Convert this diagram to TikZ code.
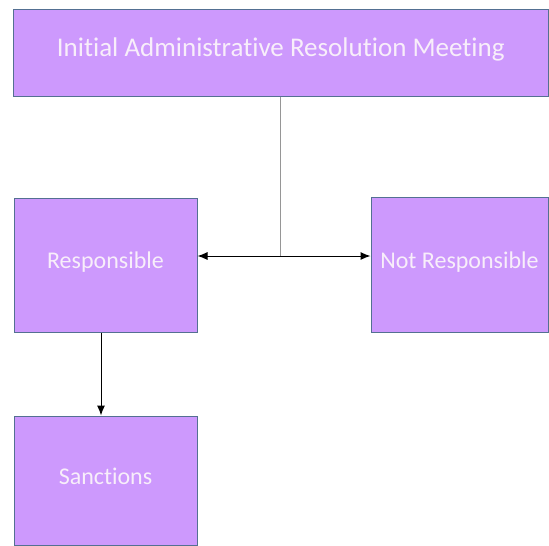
\documentclass[tikz,border=0pt]{standalone}
\usepackage{fontspec}
\setmainfont[Ligatures={NoCommon}]{Carlito}
\usetikzlibrary{arrows.meta}
\definecolor{boxfill}{RGB}{205,153,253}
\definecolor{boxline}{RGB}{84,112,146}
\definecolor{boxtext}{RGB}{248,238,250}
\definecolor{stem}{RGB}{150,150,150}
\tikzset{
  box/.style={draw=boxline, line width=1pt, fill=boxfill, text=boxtext, inner sep=0pt,
    text height=22pt, text depth=15pt, font=\fontsize{24}{28}\selectfont},
  bigbox/.style={box, font=\fontsize{27}{32}\selectfont},
  arr/.style={-{Latex[length=10pt,width=8pt]}, line width=1pt, black},
  stemline/.style={draw=stem, line width=0.8pt}
}
\begin{document}
\begin{tikzpicture}[x=1pt,y=-1pt]
\useasboundingbox (0,0) rectangle (549,546);
\node[bigbox, minimum width=534.5pt, minimum height=87pt] (top) at (280.75,52.5) {Initial Administrative Resolution Meeting};
\node[box, minimum width=183pt, minimum height=134pt] (resp) at (105.5,265) {Responsible};
\node[box, minimum width=177pt, minimum height=135pt] (notresp) at (459.5,264.5) {Not Responsible};
\node[box, minimum width=183pt, minimum height=129pt] (sanc) at (105.5,480.5) {Sanctions};
\coordinate (j) at (280,256);
\draw[stemline] (j |- top.south) -- (j);
\draw[arr] (j) -- (j -| resp.east);
\draw[arr] (j) -- (j -| notresp.west);
\draw[arr] ([xshift=-4.5pt]resp.south) -- ([xshift=-4.5pt]sanc.north);
\end{tikzpicture}
\end{document}
